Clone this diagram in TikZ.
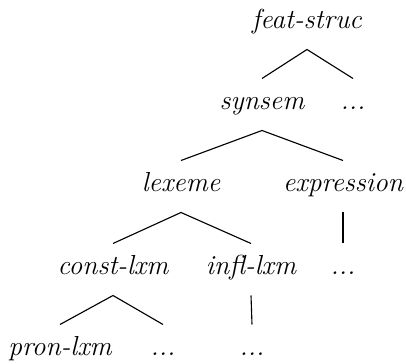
\documentclass[tikz,border=0pt]{standalone}
\begin{document}
\begin{tikzpicture}[x=0.4pt,y=-0.4pt,
  tnode/.style={font=\fontsize{11}{13}\selectfont\itshape, inner sep=0pt, anchor=base, text height=12.4pt, text depth=8pt},
  edge/.style={line width=0.45pt}]
\useasboundingbox (0,0) rectangle (406,364);
\node[tnode] (fs) at (307,29) {feat-struc};
\node[tnode] (ss) at (262,110) {synsem};
\node[tnode] (d1) at (353,110) {...};
\node[tnode] (lx) at (181,192) {lexeme};
\node[tnode] (ex) at (343,192) {expression};
\node[tnode] (cl) at (113,275) {const-lxm};
\node[tnode] (il) at (251,275) {infl-lxm};
\node[tnode] (d2) at (343,275) {...};
\node[tnode] (pl) at (60,356) {pron-lxm};
\node[tnode] (d3) at (163,356) {...};
\node[tnode] (d4) at (252,356) {...};
\draw[edge] (ss.north) -- (fs.south) -- (d1.north);
\draw[edge] (lx.north) -- (ss.south) -- (ex.north);
\draw[edge] (cl.north) -- (lx.south) -- (il.north);
\draw[edge] (ex.south) -- (d2.north);
\draw[edge] (pl.north) -- (cl.south) -- (d3.north);
\draw[edge] (il.south) -- (d4.north);
\end{tikzpicture}
\end{document}
